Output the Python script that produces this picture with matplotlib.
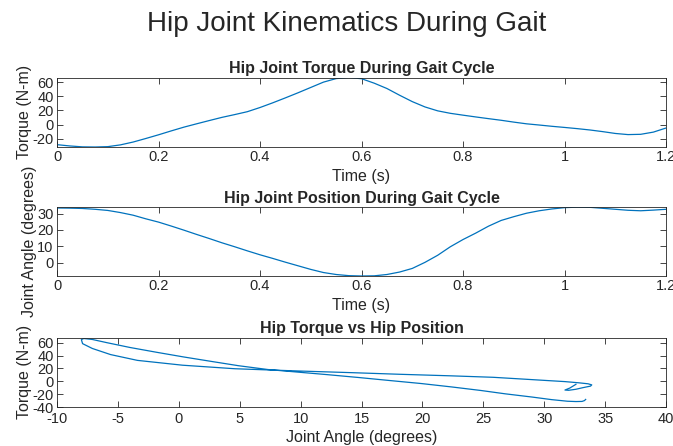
import numpy as np
import matplotlib
matplotlib.use('Agg')
import matplotlib.pyplot as plt

# gait cycle samples (s)
time_s = [0.000, 0.025, 0.050, 0.075, 0.100, 0.125, 0.150, 0.175, 0.200, 0.225,
          0.250, 0.275, 0.300, 0.325, 0.350, 0.375, 0.400, 0.425, 0.450, 0.475,
          0.500, 0.525, 0.550, 0.575, 0.600, 0.625, 0.650, 0.675, 0.700, 0.725,
          0.750, 0.775, 0.800, 0.825, 0.850, 0.875, 0.900, 0.925, 0.950, 0.975,
          1.000, 1.025, 1.050, 1.075, 1.100, 1.125, 1.150, 1.175, 1.200]

# hip torque (N-m)
torque = [-28.2, -30.0, -31.3, -31.5, -31.0, -28.5, -24.5, -19.5, -14.3, -8.8,
          -3.5, 1.2, 5.8, 10.3, 14.2, 18.3, 24.2, 30.8, 37.8, 45.0,
          52.5, 60.0, 65.0, 66.5, 64.8, 58.5, 51.0, 41.5, 32.5, 25.0,
          19.5, 16.0, 13.4, 10.9, 8.5, 6.2, 3.6, 1.2, -0.5, -2.3,
          -3.9, -5.6, -7.5, -9.8, -12.4, -14.0, -13.6, -10.5, -4.7]

# hip joint angle (degrees)
angle = [33.4, 33.3, 33.1, 32.6, 31.9, 30.6, 29.0, 26.8, 24.8, 22.4,
         19.9, 17.3, 14.8, 12.2, 9.8, 7.3, 4.9, 2.7, 0.4, -1.8,
         -4.0, -5.9, -7.1, -7.8, -8.0, -7.9, -7.1, -5.6, -3.4, 0.3,
         4.6, 9.8, 14.2, 18.1, 22.3, 25.8, 28.1, 30.2, 31.7, 32.8,
         33.6, 33.9, 33.8, 33.2, 32.6, 32.0, 31.7, 32.1, 32.6]

plt.rcParams['font.family'] = ['Liberation Sans', 'DejaVu Sans']
plt.rcParams['font.size'] = 10
plt.rcParams['axes.unicode_minus'] = False

line_color = '#0072BD'
text_color = '#262626'
box_color = '#262626'
tick_fs = 10.5
label_fs = 11.5
title_fs = 11.5

fig = plt.figure(figsize=(6.73, 4.46), dpi=100)
fig.text(0.515, 0.947, 'Hip Joint Kinematics During Gait', ha='center', va='center',
         fontsize=20, color=text_color)


def style_axes(ax):
    ax.tick_params(direction='in', top=True, right=True, length=4, width=0.6,
                   labelsize=tick_fs, colors=box_color, labelcolor=text_color, pad=2.5)
    for sp in ax.spines.values():
        sp.set_color(box_color)
        sp.set_linewidth(0.6)


ax1 = fig.add_axes([0.0847, 0.6704, 0.905, 0.1558])
ax1.plot(time_s, torque, color=line_color, lw=0.9)
ax1.set_xlim(0, 1.2)
ax1.set_ylim(-31.5, 66.5)
ax1.set_xticks([0, 0.2, 0.4, 0.6, 0.8, 1.0, 1.2])
ax1.set_xticklabels(['0', '0.2', '0.4', '0.6', '0.8', '1', '1.2'])
ax1.set_yticks([-20, 0, 20, 40, 60])
ax1.set_title('Hip Joint Torque During Gait Cycle', fontsize=title_fs, fontweight='bold',
              color=text_color, pad=3)
ax1.set_xlabel('Time (s)', fontsize=label_fs, color=text_color, labelpad=3)
ax1.set_ylabel('Torque (N-m)', fontsize=label_fs, color=text_color, labelpad=0)
style_axes(ax1)

ax2 = fig.add_axes([0.0847, 0.3812, 0.905, 0.1547])
ax2.plot(time_s, angle, color=line_color, lw=0.9)
ax2.set_xlim(0, 1.2)
ax2.set_ylim(-8, 34)
ax2.set_xticks([0, 0.2, 0.4, 0.6, 0.8, 1.0, 1.2])
ax2.set_xticklabels(['0', '0.2', '0.4', '0.6', '0.8', '1', '1.2'])
ax2.set_yticks([0, 10, 20, 30])
ax2.set_title('Hip Joint Position During Gait Cycle', fontsize=title_fs, fontweight='bold',
              color=text_color, pad=3)
ax2.set_xlabel('Time (s)', fontsize=label_fs, color=text_color, labelpad=3)
ax2.set_ylabel('Joint Angle (degrees)', fontsize=label_fs, color=text_color, labelpad=0)
style_axes(ax2)

ax3 = fig.add_axes([0.0847, 0.0874, 0.905, 0.1558])
ax3.plot(angle, torque, color=line_color, lw=0.9)
ax3.set_xlim(-10, 40)
ax3.set_ylim(-40, 68)
ax3.set_xticks(np.arange(-10, 41, 5))
ax3.set_yticks([-40, -20, 0, 20, 40, 60])
ax3.set_title('Hip Torque vs Hip Position', fontsize=title_fs, fontweight='bold',
              color=text_color, pad=3)
ax3.set_xlabel('Joint Angle (degrees)', fontsize=label_fs, color=text_color, labelpad=3)
ax3.set_ylabel('Torque (N-m)', fontsize=label_fs, color=text_color, labelpad=0)
style_axes(ax3)
ax3.tick_params(axis='x', pad=3.5)

fig.savefig('out.png', dpi=100)
